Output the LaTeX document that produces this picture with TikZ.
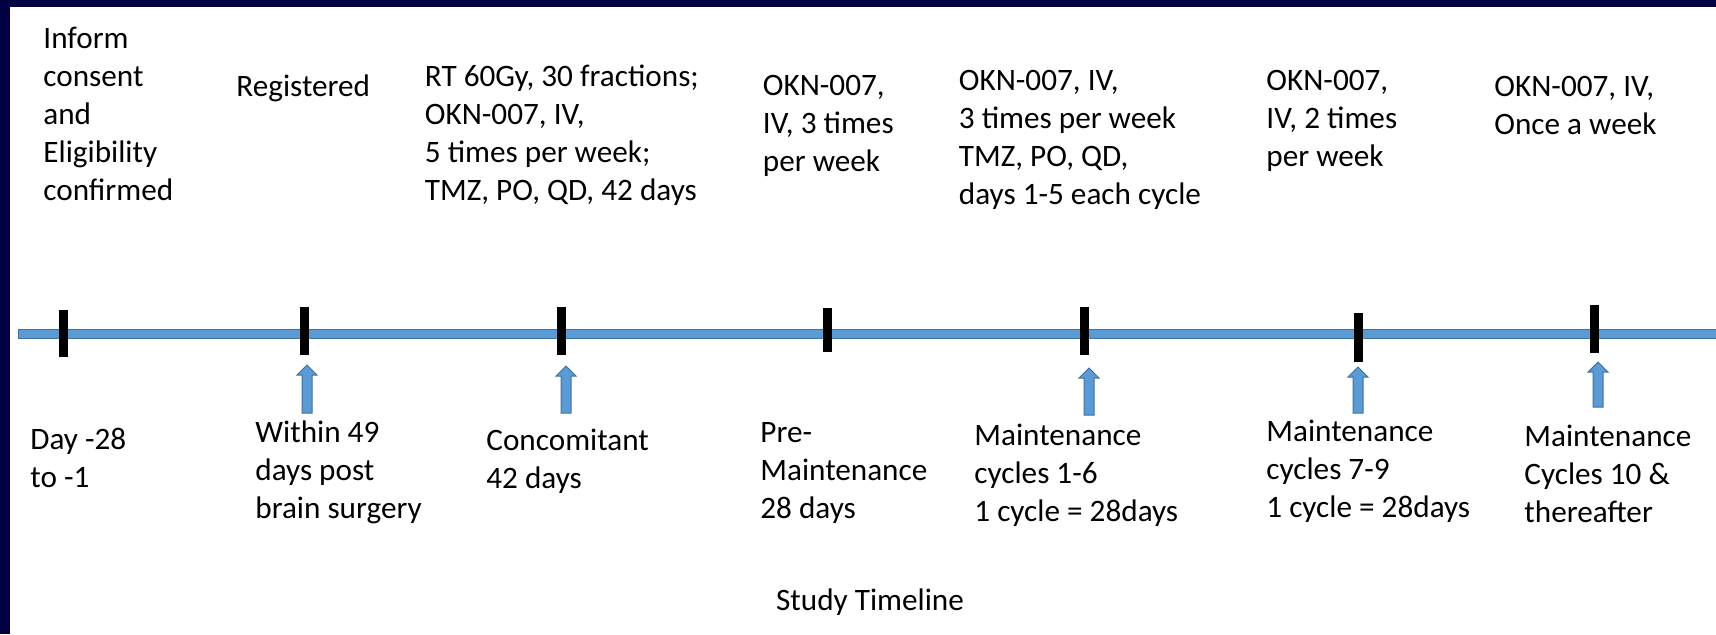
\documentclass[tikz,border=0pt]{standalone}
\usepackage{fontspec}
\setmainfont{Carlito}
\definecolor{navy}{RGB}{0,0,66}
\definecolor{tlblue}{RGB}{91,155,213}
\definecolor{tledge}{RGB}{65,113,156}
\newcommand\blockup[3]{%
  \filldraw[blockarrow] (#1-5,#3) -- (#1-5,#2+10) -- (#1-10,#2+10) -- (#1,#2) -- (#1+10,#2+10) -- (#1+5,#2+10) -- (#1+5,#3) -- cycle;}
\begin{document}
\begin{tikzpicture}[x=0.5pt,y=-0.5pt,
  txt/.style={anchor=base west,inner sep=0pt,align=left,font=\fontsize{15.6}{19}\selectfont},
  tickmark/.style={line width=4.5pt,black},
  blockarrow/.style={fill=tlblue,draw=tledge,line width=0.5pt}]
\useasboundingbox (0,0) rectangle (1716,634);
\fill[white] (0,0) rectangle (1716,634);
\fill[navy] (0,0) rectangle (1716,7);
\fill[navy] (0,0) rectangle (9.5,634);
% timeline bar
\filldraw[fill=tlblue,draw=tledge,line width=0.5pt] (18,329) rectangle (1722,338);
% ticks
\coordinate (t1) at (63,310);   \draw[tickmark] (t1) -- (63,357);
\coordinate (t2) at (304,307);  \draw[tickmark] (t2) -- (304,355);
\coordinate (t3) at (561,307);  \draw[tickmark] (t3) -- (561,355);
\coordinate (t4) at (827,308);  \draw[tickmark] (t4) -- (827,352);
\coordinate (t5) at (1084,307); \draw[tickmark] (t5) -- (1084,355);
\coordinate (t6) at (1358,313); \draw[tickmark] (t6) -- (1358,362);
\coordinate (t7) at (1594,305); \draw[tickmark] (t7) -- (1594,353);
% block arrows
\blockup{307}{365}{413}
\blockup{566}{366}{413}
\blockup{1089}{368}{415}
\blockup{1358}{367}{413}
\blockup{1598}{362}{407}
% top labels (anchored at the baseline of the last line)
\node[txt] (top1) at (43,200) {Inform\\consent\\and\\Eligibility\\confirmed};
\node[txt] (top2) at (236,96.7) {Registered};
\node[txt] (top3) at (424.5,200) {RT 60Gy, 30 fractions;\\OKN-007, IV,\\5 times per week;\\TMZ, PO, QD, 42 days};
\node[txt] (top4) at (762.5,171.5) {OKN-007,\\IV, 3 times\\per week};
\node[txt] (top5) at (958.5,204) {OKN-007, IV,\\3 times per week\\TMZ, PO, QD,\\days 1-5 each cycle};
\node[txt] (top6) at (1266,166) {OKN-007,\\IV, 2 times\\per week};
\node[txt] (top7) at (1494,134) {OKN-007, IV,\\Once a week};
% bottom labels
\node[txt] (bot1) at (30,487) {Day -28\\to -1};
\node[txt] (bot2) at (255,518) {Within 49\\days post\\brain surgery};
\node[txt] (bot3) at (486,488) {Concomitant\\42 days};
\node[txt] (bot4) at (760,518) {Pre-\\Maintenance\\28 days};
\node[txt] (bot5) at (974,521) {Maintenance\\cycles 1-6\\1 cycle = 28days};
\node[txt] (bot6) at (1266,517) {Maintenance\\cycles 7-9\\1 cycle = 28days};
\node[txt] (bot7) at (1524,522) {Maintenance\\Cycles 10 \&\\thereafter};
\node[anchor=base,inner sep=0pt,font=\fontsize{15.6}{19}\selectfont] (title) at (870,610) {Study Timeline};
\end{tikzpicture}
\end{document}
